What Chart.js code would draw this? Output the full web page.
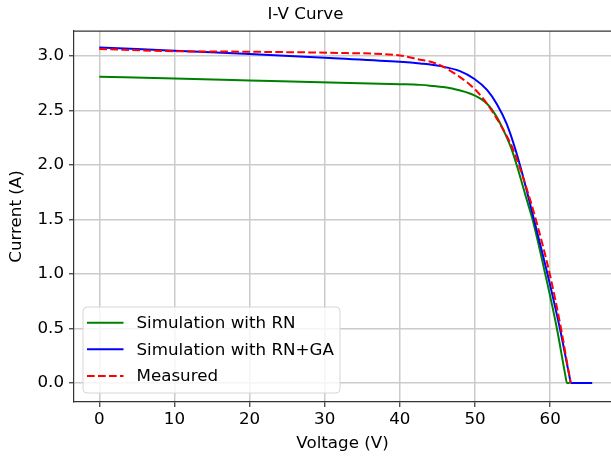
<!DOCTYPE html>
<html>
<head>
<meta charset="utf-8">
<script src="https://cdn.jsdelivr.net/npm/chart.js@4"></script>
<style>
  html, body { margin: 0; padding: 0; background: #fff; }
  #wrap { width: 611px; height: 457px; }
</style>
</head>
<body>
<div id="wrap"><canvas id="ivChart"></canvas></div>
<script>
// I-V curve data
var rnVoltage = [0, 10, 20, 30.7, 40, 42.7, 44, 47.1, 49.93, 51.6, 52.9, 54.0, 54.9, 55.55, 56.9, 57.66, 59.35, 60.9, 62.0, 62.24, 62.6];
var rnCurrent = [2.81, 2.795, 2.777, 2.757, 2.742, 2.736, 2.729, 2.70, 2.64, 2.563, 2.44, 2.288, 2.14, 2.0, 1.679, 1.5, 1.0, 0.5, 0.08, 0.0, 0.0];

var gaVoltage = [0, 10, 20, 30.7, 40, 42.7, 45.4, 48.0, 49.93, 51.6, 52.9, 54.2, 55.35, 56.1, 57.2, 57.85, 59.65, 61.3, 62.55, 62.77, 65.6];
var gaCurrent = [3.08, 3.05, 3.02, 2.982, 2.948, 2.932, 2.908, 2.862, 2.79, 2.69, 2.56, 2.38, 2.15, 1.97, 1.68, 1.5, 1.0, 0.5, 0.07, 0.0, 0.0];

var measVoltage = [0, 10, 20, 30.7, 40, 42.7, 44, 45.4, 48.0, 49.93, 51.6, 52.9, 54.2, 55.1, 57.35, 58.1, 59.95, 61.45, 62.55, 62.75];
var measCurrent = [3.065, 3.045, 3.04, 3.03, 3.006, 2.967, 2.95, 2.915, 2.807, 2.70, 2.563, 2.426, 2.27, 2.14, 1.679, 1.5, 1.0, 0.5, 0.07, 0.0];

var xTicks = [0, 10, 20, 30, 40, 50, 60];
var yTicks = [0.0, 0.5, 1.0, 1.5, 2.0, 2.5, 3.0];

function toPoints(xs, ys) {
    return xs.map(function (x, i) { return { x: x, y: ys[i] }; });
}

var FONT = 'DejaVu Sans';
var SPINE = '#333333';
var TEXT = '#000000';

// top spine + legend box in the lower left corner
var extras = {
    id: 'extras',
    afterDraw: function (chart) {
        var ctx = chart.ctx, a = chart.chartArea;
        ctx.save();
        ctx.strokeStyle = SPINE;
        ctx.lineWidth = 1.2;
        ctx.beginPath();
        ctx.moveTo(a.left, a.top);
        ctx.lineTo(a.right, a.top);
        ctx.stroke();

        // legend
        var bx = 83, by = 307, bw = 257, bh = 86, r = 4;
        ctx.fillStyle = 'rgba(255,255,255,0.8)';
        ctx.strokeStyle = '#d6d6d6';
        ctx.lineWidth = 1;
        ctx.beginPath();
        ctx.moveTo(bx + r, by);
        ctx.arcTo(bx + bw, by, bx + bw, by + bh, r);
        ctx.arcTo(bx + bw, by + bh, bx, by + bh, r);
        ctx.arcTo(bx, by + bh, bx, by, r);
        ctx.arcTo(bx, by, bx + bw, by, r);
        ctx.closePath();
        ctx.fill();
        ctx.stroke();

        var rows = [322.7, 349.3, 376];
        ctx.font = '16.7px "' + FONT + '"';
        ctx.textBaseline = 'middle';
        chart.data.datasets.forEach(function (ds, i) {
            var y = rows[i];
            ctx.strokeStyle = ds.borderColor;
            ctx.lineWidth = 2;
            ctx.setLineDash(ds.borderDash || []);
            ctx.beginPath();
            ctx.moveTo(87, y);
            ctx.lineTo(123.5, y);
            ctx.stroke();
            ctx.setLineDash([]);
            ctx.fillStyle = TEXT;
            ctx.fillText(ds.label, 136.5, y + 1);
        });
        ctx.restore();
    }
};

var ctx = document.getElementById('ivChart').getContext('2d');
window.ivChart = new Chart(ctx, {
    type: 'line',
    data: {
        datasets: [{
            label: 'Simulation with RN',
            data: toPoints(rnVoltage, rnCurrent),
            borderColor: '#008000',
            borderWidth: 2,
            pointRadius: 0,
            cubicInterpolationMode: 'monotone',
            order: 3
        }, {
            label: 'Simulation with RN+GA',
            data: toPoints(gaVoltage, gaCurrent),
            borderColor: '#0000ff',
            borderWidth: 2,
            pointRadius: 0,
            cubicInterpolationMode: 'monotone',
            order: 2
        }, {
            label: 'Measured',
            data: toPoints(measVoltage, measCurrent),
            borderColor: '#ff0000',
            borderWidth: 2,
            borderDash: [7.7, 3.3],
            pointRadius: 0,
            cubicInterpolationMode: 'monotone',
            order: 1
        }]
    },
    options: {
        responsive: true,
        maintainAspectRatio: false,
        animation: false,
        layout: { padding: 0 },
        plugins: {
            legend: { display: false },
            tooltip: { enabled: false },
            title: {
                display: true,
                text: 'I-V Curve',
                color: TEXT,
                font: { family: FONT, size: 16.7, weight: 'normal' },
                padding: { top: 5, bottom: 6 }
            }
        },
        scales: {
            x: {
                type: 'linear',
                min: -3.37,
                max: 68.1,
                afterBuildTicks: function (s) { s.ticks = xTicks.map(function (v) { return { value: v }; }); },
                afterFit: function (s) { s.height = 55; },
                ticks: {
                    color: TEXT,
                    font: { family: FONT, size: 16.7 },
                    padding: 3,
                    maxRotation: 0
                },
                grid: { color: '#cbcbcb', lineWidth: 1.5, tickColor: SPINE, tickLength: 5, tickWidth: 1.2 },
                border: { color: SPINE, width: 1.2 },
                title: {
                    display: true,
                    text: 'Voltage (V)',
                    color: TEXT,
                    font: { family: FONT, size: 16.7 },
                    padding: { top: 0, bottom: 3 }
                }
            },
            y: {
                type: 'linear',
                min: -0.174,
                max: 3.23,
                afterBuildTicks: function (s) { s.ticks = yTicks.map(function (v) { return { value: v }; }); },
                afterFit: function (s) { s.width = 74; },
                ticks: {
                    color: TEXT,
                    font: { family: FONT, size: 16.7 },
                    padding: 5,
                    callback: function (v) { return Number(v).toFixed(1); }
                },
                grid: { color: '#cbcbcb', lineWidth: 1.5, tickColor: SPINE, tickLength: 5, tickWidth: 1.2 },
                border: { color: SPINE, width: 1.2 },
                title: {
                    display: true,
                    text: 'Current (A)',
                    color: TEXT,
                    font: { family: FONT, size: 16.7 },
                    padding: { top: 7, bottom: 0 }
                }
            }
        }
    },
    plugins: [extras]
});
</script>
</body>
</html>
